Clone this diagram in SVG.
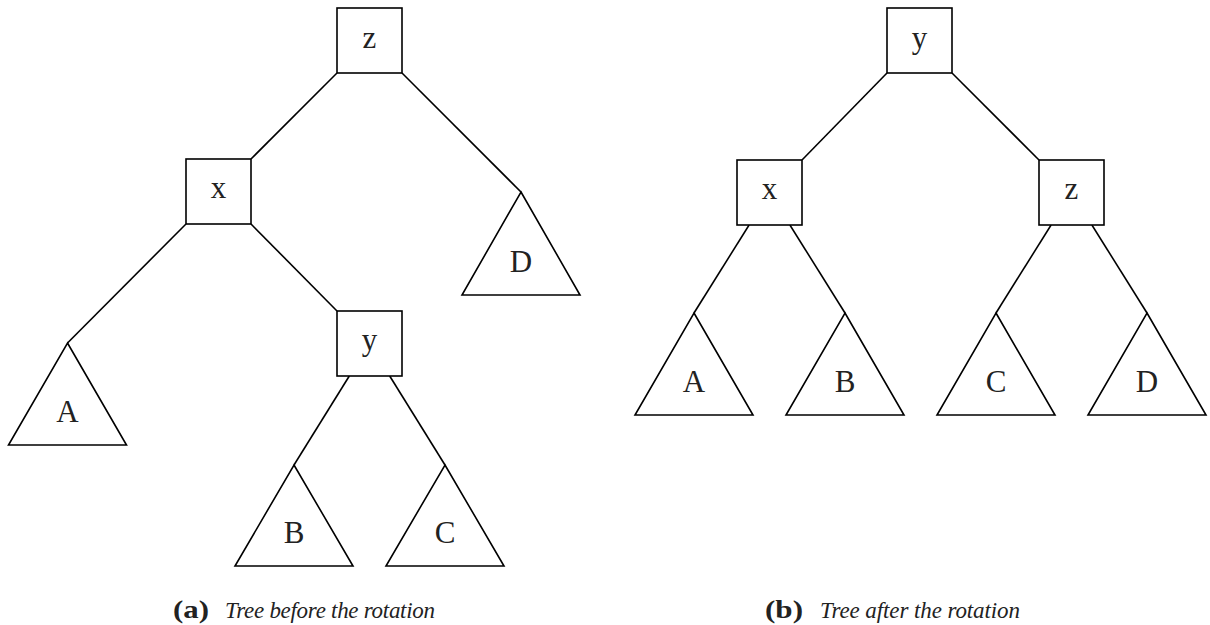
<svg xmlns="http://www.w3.org/2000/svg" width="1210" height="625" viewBox="0 0 1210 625">
<style>
.box{fill:#fff;stroke:#000;stroke-width:1.6}
.tri{fill:#fff;stroke:#000;stroke-width:1.6;stroke-linejoin:miter}
.edge{stroke:#000;stroke-width:1.6;fill:none}
.lbl{font-family:"Liberation Serif",serif;font-size:31px;fill:#222;text-anchor:middle}
.capb{font-family:"Liberation Serif",serif;font-size:25px;font-weight:bold;fill:#222}
.capi{font-family:"Liberation Serif",serif;font-size:23px;font-style:italic;fill:#222}
</style>
<rect width="1210" height="625" fill="#fff"/>
<g id="connectors">
<line class="edge" x1="337" y1="73" x2="251" y2="159"/>
<line class="edge" x1="402" y1="73" x2="521" y2="192"/>
<line class="edge" x1="186" y1="224" x2="67.5" y2="343"/>
<line class="edge" x1="251" y1="224" x2="337" y2="311"/>
<line class="edge" x1="349.3" y1="376" x2="294" y2="465"/>
<line class="edge" x1="389.7" y1="376" x2="445" y2="465"/>
<line class="edge" x1="887" y1="73" x2="802" y2="160"/>
<line class="edge" x1="952" y1="73" x2="1039" y2="160"/>
<line class="edge" x1="749.1" y1="225" x2="694" y2="313"/>
<line class="edge" x1="789.9" y1="225" x2="845" y2="313"/>
<line class="edge" x1="1051.1" y1="225" x2="996" y2="313"/>
<line class="edge" x1="1091.9" y1="225" x2="1147" y2="313"/>
</g>
<g id="a-z"><rect class="box" x="337" y="8" width="65" height="65"/><text class="lbl" x="369.5" y="48">z</text></g>
<g id="a-x"><rect class="box" x="186" y="159" width="65" height="65"/><text class="lbl" x="218.5" y="198">x</text></g>
<g id="a-y"><rect class="box" x="337" y="311" width="65" height="65"/><text class="lbl" x="369.5" y="350">y</text></g>
<g id="a-A"><polygon class="tri" points="67.5,343 126.5,445 8.5,445"/><text class="lbl" x="67.5" y="422">A</text></g>
<g id="a-D"><polygon class="tri" points="521,192 580,295 462,295"/><text class="lbl" x="521" y="272">D</text></g>
<g id="a-B"><polygon class="tri" points="294,465 353,566 235,566"/><text class="lbl" x="294" y="543">B</text></g>
<g id="a-C"><polygon class="tri" points="445,465 504,566 386,566"/><text class="lbl" x="445" y="543">C</text></g>
<g id="b-y"><rect class="box" x="887" y="8" width="65" height="65"/><text class="lbl" x="919.5" y="48">y</text></g>
<g id="b-x"><rect class="box" x="737" y="160" width="65" height="65"/><text class="lbl" x="769.5" y="199">x</text></g>
<g id="b-z"><rect class="box" x="1039" y="160" width="65" height="65"/><text class="lbl" x="1071.5" y="199">z</text></g>
<g id="b-A"><polygon class="tri" points="694,313 753,415 635,415"/><text class="lbl" x="694" y="392">A</text></g>
<g id="b-B"><polygon class="tri" points="845,313 904,415 786,415"/><text class="lbl" x="845" y="392">B</text></g>
<g id="b-C"><polygon class="tri" points="996,313 1055,415 937,415"/><text class="lbl" x="996" y="392">C</text></g>
<g id="b-D"><polygon class="tri" points="1147,313 1206,415 1088,415"/><text class="lbl" x="1147" y="392">D</text></g>
<g id="caption-a"><text class="capb" x="173" y="618" textLength="36" lengthAdjust="spacingAndGlyphs">(a)</text><text class="capi" x="225" y="618" textLength="210">Tree before the rotation</text></g>
<g id="caption-b"><text class="capb" x="765" y="618" textLength="38" lengthAdjust="spacingAndGlyphs">(b)</text><text class="capi" x="820" y="618" textLength="200">Tree after the rotation</text></g>
</svg>
